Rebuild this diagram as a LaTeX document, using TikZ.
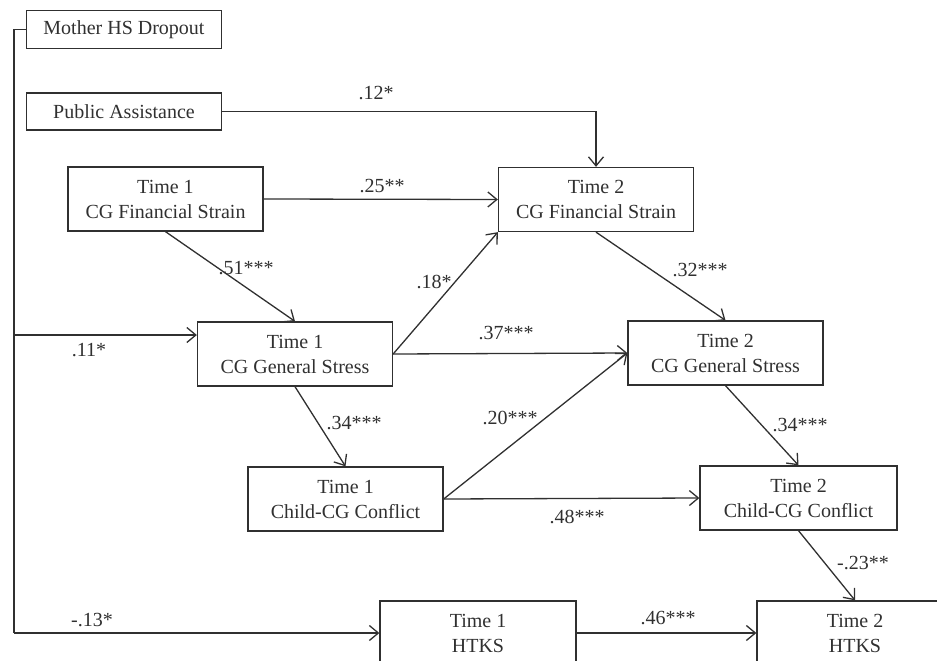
\documentclass[tikz,border=0pt]{standalone}
\usepackage{fontspec}
\setmainfont{Liberation Serif}
\usetikzlibrary{arrows.meta}
\definecolor{ink}{HTML}{303030}
\begin{document}
\begin{tikzpicture}[x=1pt,y=-1pt,
  varbox/.style={draw=ink,line width=1.3pt,inner sep=0pt,align=center,
    text=ink,font=\fontsize{20}{25}\selectfont,minimum width=195pt,minimum height=64pt},
  smallbox/.style={varbox,minimum height=38pt},
  path/.style={draw=ink,line width=1.3pt},
  arr/.style={path,-{Straight Barb[length=9pt,width=15pt,line width=1.3pt]}},
  coef/.style={text=ink,font=\fontsize{20}{24}\selectfont,inner sep=0pt}]
\useasboundingbox (0,0) rectangle (937,661);
\clip (0,0) rectangle (937,661);

% covariates
\node[smallbox] (mhs) at (124,29.5) {Mother HS Dropout};
\node[smallbox,minimum height=37pt] (pa) at (124,111.5) {Public Assistance};

% time 1 and time 2 measures
\node[varbox] (f1) at (165.5,199) {Time 1\\CG Financial Strain};
\node[varbox] (f2) at (596,199.5) {Time 2\\CG Financial Strain};
\node[varbox] (g1) at (295,354) {Time 1\\CG General Stress};
\node[varbox] (g2) at (725.5,353) {Time 2\\CG General Stress};
\node[varbox] (c1) at (345.5,499) {Time 1\\Child-CG Conflict};
\node[varbox,minimum width=197pt] (c2) at (798.5,498) {Time 2\\Child-CG Conflict};
\node[varbox,minimum width=196pt] (h1) at (478,633) {Time 1\\HTKS};
\node[varbox,minimum width=196pt] (h2) at (855,633) {Time 2\\HTKS};

% dropout trunk line with its branches
\coordinate (top) at (14,29.5);
\coordinate (mid) at (14,335);
\coordinate (bot) at (14,633);
\draw[path] (mhs.west) -- (top) -- (bot);
\draw[arr] (mid) -- (mid -| g1.west);
\draw[arr] (bot) -- (h1.west);

% paths
\draw[arr] (pa.east) -| (f2.north);
\draw[arr] (f1.east) -- (f2.west);
\draw[arr] (f1.south) -- (g1.north);
\draw[arr] (g1.east) -- (f2.south west);
\draw[arr] (g1.east) -- (g2.west);
\draw[arr] (f2.south) -- (g2.north);
\draw[arr] (g1.south) -- (c1.north);
\draw[arr] (c1.east) -- (g2.west);
\draw[arr] (c1.east) -- (c2.west);
\draw[arr] (g2.south) -- (c2.north);
\draw[arr] (c2.south) -- (h2.north);
\draw[arr] (h1.east) -- (h2.west);

% coefficients
\node[coef] (k12) at (376,93) {.12*};
\node[coef] (k25) at (382,186) {.25**};
\node[coef] (k51) at (246,268) {.51***};
\node[coef] (k18) at (434,282) {.18*};
\node[coef] (k37) at (506,333) {.37***};
\node[coef] (k32) at (700,270) {.32***};
\node[coef] (k11) at (89,350) {.11*};
\node[coef] (k34a) at (354,423) {.34***};
\node[coef] (k20) at (510,418) {.20***};
\node[coef] (k48) at (577,517) {.48***};
\node[coef] (k34b) at (800,425) {.34***};
\node[coef] (k23) at (863,563) {-.23**};
\node[coef] (k46) at (668,618) {.46***};
\node[coef] (k13) at (92,620) {-.13*};
\end{tikzpicture}
\end{document}
